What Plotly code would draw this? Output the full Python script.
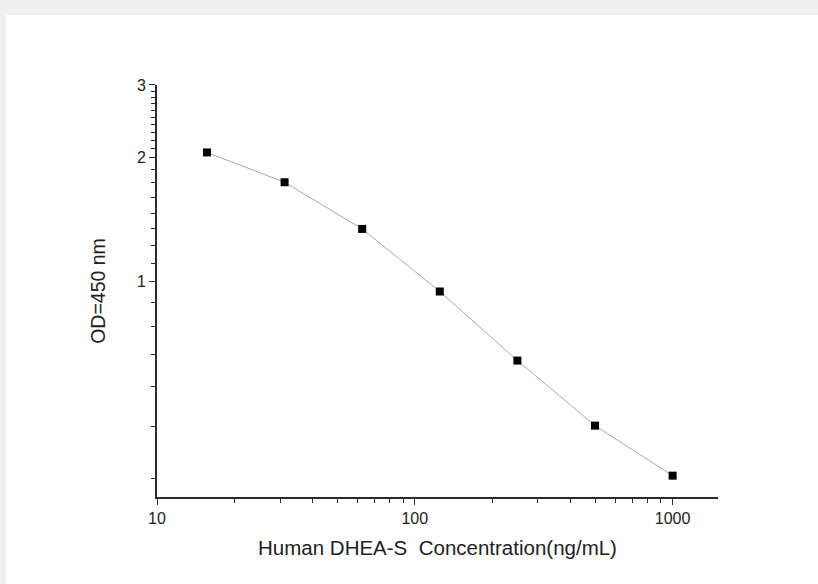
import plotly.graph_objects as go

# Data
concentration = [15.625, 31.25, 62.5, 125, 250, 500, 1000]
od_values = [2.058, 1.742, 1.342, 0.946, 0.643, 0.447, 0.338]

x_tick_vals = [10, 100, 1000]
x_tick_text = ["10", "100", "1000"]
x_minor_vals = [20, 30, 40, 50, 60, 70, 80, 90, 200, 300, 400, 500, 600, 700, 800, 900]
y_tick_vals = [1, 2, 3]
y_tick_text = ["1", "2", "3"]
y_minor_vals = [3/9, 4/9, 5/9, 6/9, 7/9, 8/9,
                1.107, 1.226, 1.344, 1.461, 1.603, 1.742, 1.867,
                2.1, 2.2, 2.3, 2.4, 2.5, 2.6, 2.7, 2.8, 2.9]

W, H = 818, 584
L, R, T, B = 157, 100, 85, 87
pw, ph = W - L - R, H - T - B

fig = go.Figure()
fig.add_trace(go.Scatter(
    x=concentration, y=od_values, mode="lines+markers",
    line=dict(color="#a8a8a8", width=1),
    marker=dict(symbol="square", size=8, color="black"),
    showlegend=False,
))

def px2paper_x(px):
    return (px - L) / pw

def px2paper_y(py):
    return (H - B - py) / ph

fig.add_shape(type="rect", xref="paper", yref="paper",
              x0=px2paper_x(6), x1=px2paper_x(830),
              y0=px2paper_y(600), y1=px2paper_y(15),
              fillcolor="white", line=dict(width=0), layer="below")

font = "Liberation Sans, Arial, sans-serif"
axis_common = dict(
    showgrid=False, zeroline=False, showline=True, linecolor="#2a2a2a", linewidth=1.6,
    ticks="outside", ticklen=6, tickwidth=1.3, tickcolor="#2a2a2a",
    tickfont=dict(family=font, size=16, color="#222222"),
    mirror=False,
)

fig.update_xaxes(
    type="log", range=[1, 3.176],
    tickmode="array", tickvals=x_tick_vals, ticktext=x_tick_text,
    minor=dict(tickmode="array", tickvals=x_minor_vals, ticks="outside", ticklen=4,
               tickwidth=1.3, tickcolor="#2a2a2a"),
    title=dict(text="Human DHEA-S\u00a0 Concentration(ng/mL)",
               font=dict(family=font, size=20.5, color="#222222"), standoff=15),
    **axis_common,
)
fig.update_yaxes(
    type="log", range=[-0.5229, 0.4771],
    tickmode="array", tickvals=y_tick_vals, ticktext=y_tick_text,
    minor=dict(tickmode="array", tickvals=y_minor_vals, ticks="outside", ticklen=4,
               tickwidth=1.3, tickcolor="#2a2a2a"),
    title=dict(text="OD=450 nm", font=dict(family=font, size=19.5, color="#222222"),
               standoff=26),
    **axis_common,
)

fig.update_layout(
    width=W, height=H,
    margin=dict(l=L, r=R, t=T, b=B, autoexpand=False),
    paper_bgcolor="#efefef", plot_bgcolor="white",
)

fig.write_html("out.html", config={"displayModeBar": False},
               post_script="document.body.style.margin='0';document.body.style.background='#efefef';")
